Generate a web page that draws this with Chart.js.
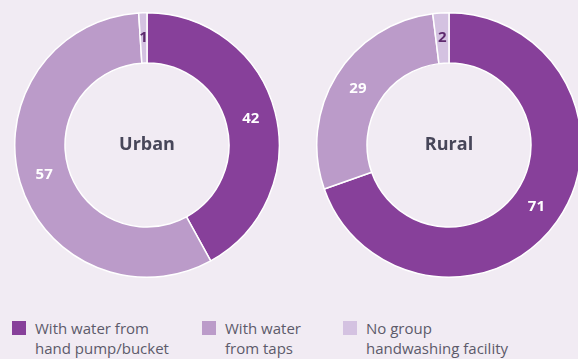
<!DOCTYPE html>
<html>
<head>
<meta charset="utf-8">
<script src="https://cdn.jsdelivr.net/npm/chart.js@4/dist/chart.umd.min.js"></script>
<style>
  html, body { margin: 0; padding: 0; }
  body { width: 578px; height: 359px; background: #f1ebf3; position: relative; overflow: hidden; font-family: "Open Sans", "Noto Sans", sans-serif; }
  .donut { position: absolute; top: 12px; width: 266px; height: 266px; }
  #urbanWrap { left: 14px; }
  #ruralWrap { left: 316px; }
  .legend { position: absolute; top: 318px; left: 0; width: 578px; }
  .item { position: absolute; top: 0; font-size: 15px; line-height: 20px; color: #5c5a6a; }
  .item i { position: absolute; left: -23px; top: 3px; width: 14px; height: 14px; }
</style>
</head>
<body>
<div class="donut" id="urbanWrap"><canvas id="urban"></canvas></div>
<div class="donut" id="ruralWrap"><canvas id="rural"></canvas></div>
<div class="legend" id="legend"></div>
<script>
const categories = ['With water from\nhand pump/bucket', 'With water\nfrom taps', 'No group\nhandwashing facility'];
const urbanValues = [42, 57, 1];
const ruralValues = [71, 29, 2];
const colors = ['#87409a', '#bb9bc9', '#d4c2e1'];
const labelColors = ['#ffffff', '#ffffff', '#5e2a6e'];

// value labels in the ring plus the title in the hole
const donutText = {
  id: 'donutText',
  afterDatasetsDraw(chart, args, opts) {
    const ctx = chart.ctx;
    const meta = chart.getDatasetMeta(0);
    ctx.save();
    ctx.textAlign = 'center';
    ctx.textBaseline = 'middle';
    ctx.font = 'bold 15px "Open Sans", sans-serif';
    meta.data.forEach((arc, i) => {
      const p = arc.tooltipPosition();
      ctx.fillStyle = labelColors[i];
      ctx.fillText(chart.data.datasets[0].data[i], p.x, p.y);
    });
    const c = meta.data[0];
    ctx.font = 'bold 18px "Open Sans", sans-serif';
    ctx.fillStyle = '#474659';
    ctx.fillText(opts.title, c.x, c.y);
    ctx.restore();
  }
};

function makeDonut(id, title, values) {
  return new Chart(document.getElementById(id), {
    type: 'doughnut',
    data: {
      labels: categories,
      datasets: [{
        data: values,
        backgroundColor: colors,
        borderColor: '#ffffff',
        borderWidth: 1.5
      }]
    },
    options: {
      responsive: true,
      maintainAspectRatio: false,
      animation: false,
      cutout: '62%',
      layout: { padding: 0 },
      plugins: {
        legend: { display: false },
        tooltip: { enabled: false },
        donutText: { title: title }
      }
    },
    plugins: [donutText]
  });
}

makeDonut('urban', 'Urban', urbanValues);
makeDonut('rural', 'Rural', ruralValues);

const legendX = [35, 225, 366];
const legend = document.getElementById('legend');
categories.forEach((c, i) => {
  const el = document.createElement('div');
  el.className = 'item';
  el.style.left = legendX[i] + 'px';
  el.innerHTML = '<i style="background:' + colors[i] + '"></i>' + c.replace('\n', '<br>');
  legend.appendChild(el);
});
</script>
</body>
</html>
